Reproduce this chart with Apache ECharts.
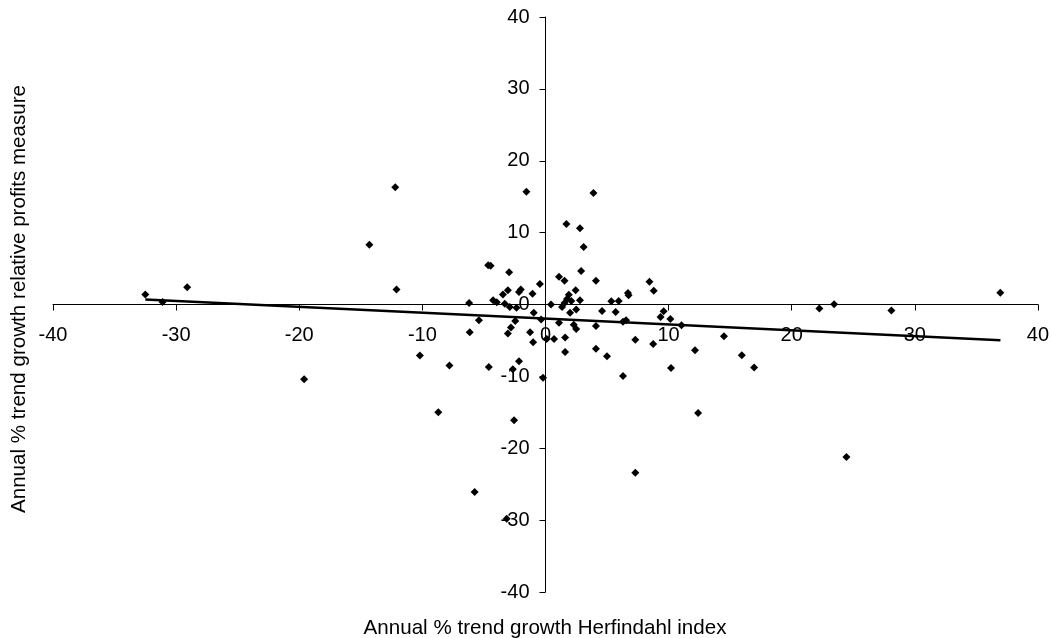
<!DOCTYPE html>
<html><head><meta charset="utf-8">
<script src="https://cdn.jsdelivr.net/npm/echarts@6/dist/echarts.min.js"></script>
<style>html,body{margin:0;padding:0;background:#fff}#c{width:1052px;height:638px}</style>
</head><body><div id="c"></div>
<script>
const xValues = [-32.5, -31.1, -29.1, -19.6, -14.3, -12.2, -12.1, -10.2, -8.7, -7.8,
  -6.2, -6.15, -5.75, -5.4, -4.65, -4.45, -4.6, -4.25, -3.95, -3.45,
  -3.3, -3.15, -3.05, -3.05, -2.95, -2.9, -2.8, -2.65, -2.55, -2.45,
  -2.35, -2.15, -2.15, -2.0, -1.55, -1.25, -1.05, -1.0, -0.95, -0.45,
  -0.35, -0.2, 0.1, 0.45, 0.7, 1.1, 1.1, 1.35, 1.55, 1.55,
  1.6, 1.6, 1.7, 1.75, 1.9, 2.0, 2.1, 2.3, 2.45, 2.5,
  2.5, 2.8, 2.8, 2.9, 3.1, 3.9, 4.1, 4.1, 4.1, 4.6,
  5.0, 5.35, 5.7, 5.95, 6.3, 6.55, 6.3, 6.7, 6.75, 7.3,
  7.3, 8.45, 8.8, 8.75, 9.35, 9.6, 10.15, 10.2, 11.05, 12.15,
  12.4, 14.5, 15.95, 16.95, 22.25, 23.45, 24.45, 28.1, 36.95];
const yValues = [1.4, 0.35, 2.4, -10.4, 8.3, 16.3, 2.1, -7.1, -15.0, -8.5,
  0.2, -3.85, -26.1, -2.2, 5.45, 5.4, -8.7, 0.6, 0.3, 1.4,
  0.1, -29.8, 2.0, -4.05, 4.5, -0.35, -3.2, -9.0, -16.1, -2.3,
  -0.45, 1.75, -7.9, 2.1, 15.7, -3.85, 1.5, -5.25, -1.15, 2.85,
  -2.1, -10.2, -4.8, 0.0, -4.8, 3.85, -2.55, -0.35, 3.3, 0.2,
  -4.6, -6.6, 11.2, 0.75, 1.35, -1.15, 0.5, -2.8, 2.0, -0.7,
  -3.4, 10.6, 0.6, 4.65, 8.0, 15.5, 3.3, -3.0, -6.15, -0.9,
  -7.2, 0.45, -1.05, 0.5, -2.4, -2.2, -9.95, 1.6, 1.3, -4.9,
  -23.4, 3.15, 1.9, -5.5, -1.75, -0.95, -2.0, -8.85, -2.9, -6.35,
  -15.1, -4.4, -7.05, -8.75, -0.55, 0.05, -21.2, -0.85, 1.65];
const trendX = [-32.5, 36.96];
const trendY = [0.70, -4.97];
const xTitle = 'Annual % trend growth Herfindahl index';
const yTitle = 'Annual % trend growth relative profits measure';

const FONT = "'Liberation Sans', Arial, sans-serif";
const W = 1052, H = 638;
const G = {left: 53, right: 14, top: 17, bottom: 46};
const gridW = W - G.left - G.right, gridH = H - G.top - G.bottom;
const chart = echarts.init(document.getElementById('c'), null, {renderer: 'canvas'});
function axis(extra) {
  return Object.assign({
    type: 'value', min: -40, max: 40, interval: 10,
    splitLine: {show: false},
    axisLine: {show: true, onZero: false, lineStyle: {color: '#000', width: 1}},
    axisTick: {show: true, inside: false, length: 6, lineStyle: {color: '#000', width: 1}}
  }, extra);
}
chart.setOption({
  animation: false,
  backgroundColor: '#fff',
  grid: Object.assign({containLabel: false}, G),
  xAxis: axis({position: 'bottom', offset: -gridH / 2,
    axisLabel: {color: '#000', fontSize: 20, fontFamily: FONT, margin: 21}}),
  yAxis: axis({position: 'left', offset: -gridW / 2,
    axisLabel: {color: '#000', fontSize: 20, fontFamily: FONT, margin: 16}}),
  series: [
    {
      type: 'scatter', symbol: 'diamond', symbolSize: 8,
      itemStyle: {color: '#000', opacity: 1},
      data: xValues.map((x, i) => [x, yValues[i]])
    },
    {
      type: 'line', symbol: 'none', silent: true,
      lineStyle: {color: '#000', width: 2.5},
      data: trendX.map((x, i) => [x, trendY[i]])
    }
  ],
  graphic: [
    {type: 'text', x: 545, y: 628, style: {text: xTitle, font: '20.6px ' + FONT, fill: '#000', align: 'center', verticalAlign: 'middle', textAlign: 'center', textVerticalAlign: 'middle'}},
    {type: 'text', x: 19, y: 299, rotation: Math.PI / 2, style: {text: yTitle, font: '20.6px ' + FONT, fill: '#000', align: 'center', verticalAlign: 'middle', textAlign: 'center', textVerticalAlign: 'middle'}}
  ]
});
</script></body></html>
